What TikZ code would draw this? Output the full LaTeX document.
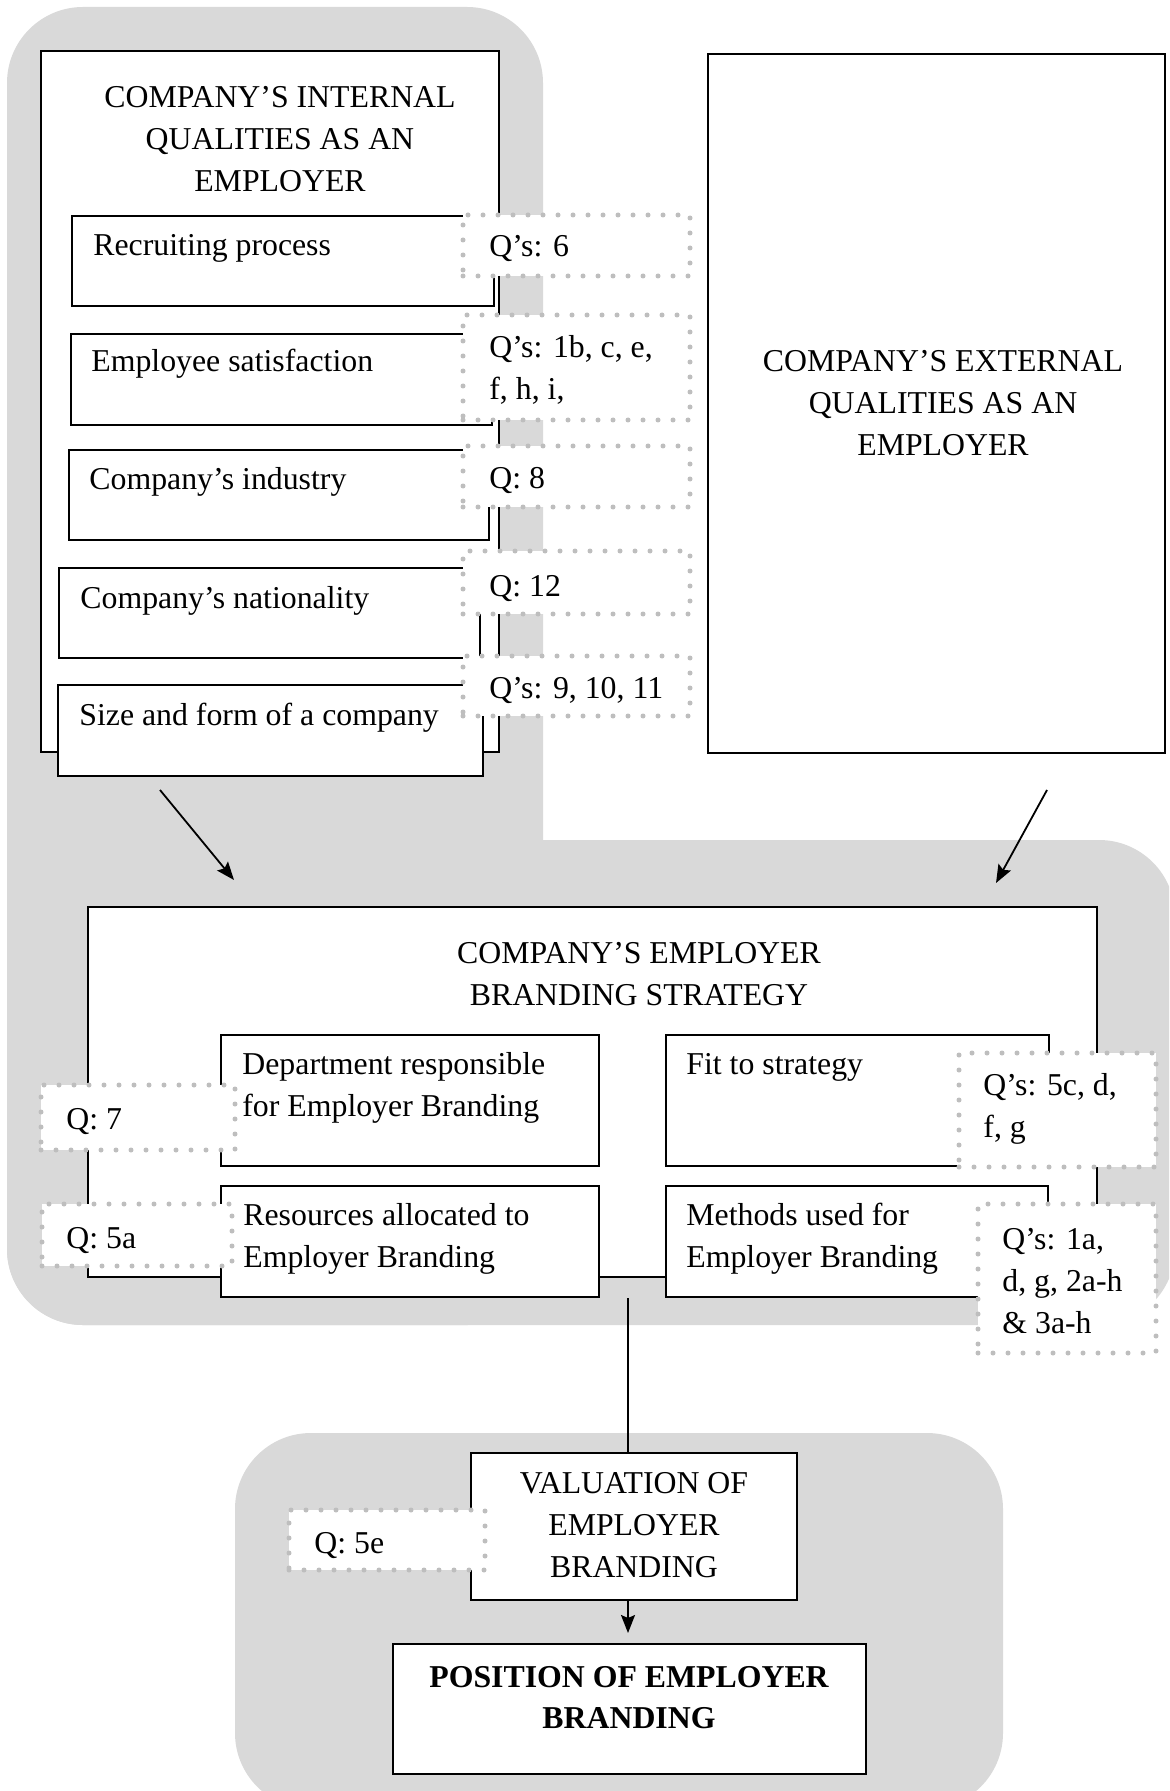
\documentclass[tikz,border=0pt]{standalone}
\usepackage{fontspec}
\setmainfont{Liberation Serif}
\usetikzlibrary{arrows.meta,fit}
\definecolor{bggray}{RGB}{217,217,217}
\definecolor{dotgray}{RGB}{190,190,190}
\begin{document}
\begin{tikzpicture}[x=0.5pt,y=-0.5pt,
  box/.style={draw=black,line width=0.9pt,fill=white,inner sep=0pt},
  qbox/.style={draw=dotgray,line width=2.5pt,line cap=round,dash pattern=on 0pt off 7.5pt,fill=white,inner sep=0pt},
  txt/.style={font=\fontsize{15.9pt}{21pt}\selectfont,inner sep=0pt,anchor=base west,align=left},
  ctxt/.style={font=\fontsize{15.9pt}{21pt}\selectfont,inner sep=0pt,anchor=base,align=center},
  arr/.style={line width=0.9pt,-{Stealth[length=9pt,width=7pt,inset=1.5pt]}},
  conn/.style={line width=0.9pt}]
\clip (0,0) rectangle (1169,1791);
\fill[white] (0,0) rectangle (1169,1791);
% gray backgrounds
\fill[bggray,rounded corners=38pt] (7,7) rectangle (543,1325);
\fill[bggray,rounded corners=38pt] (7,840) rectangle (1175,1325);
\fill[bggray,rounded corners=38pt] (235,1433) rectangle (1003,1809);

% internal qualities (multi-line text nodes are placed by their last baseline)
\node[box,fit={(41,51) (499,752)}] (intq) {};
\node[ctxt] (intT) at (280,192) {COMPANY’S INTERNAL\\QUALITIES AS AN\\EMPLOYER};
\node[box,fit={(72,216) (494,306)}] (recr) {};
\node[txt] (recrT) at (93,256) {Recruiting process};
\node[box,fit={(71,334) (492,425)}] (emp) {};
\node[txt] (empT) at (91,372) {Employee satisfaction};
\node[box,fit={(69,450) (489,540)}] (ind) {};
\node[txt] (indT) at (89,489) {Company’s industry};
\node[box,fit={(59,568) (480,658)}] (nat) {};
\node[txt] (natT) at (80,608) {Company’s nationality};
\node[box,fit={(58,685) (483,776)}] (size) {};
\node[txt] (sizeT) at (79,725) {Size and form of a company};

\node[qbox,fit={(463,215) (690,276)}] (q6) {};
\node[txt] (q6T) at (489,257) {Q’s: 6};
\node[qbox,fit={(463,315) (690,420)}] (q1b) {};
\node[txt] (q1bT) at (489,400) {Q’s: 1b, c, e,\\f, h, i,};
\node[qbox,fit={(463,446) (690,507)}] (q8) {};
\node[txt] (q8T) at (489,488) {Q: 8};
\node[qbox,fit={(463,551) (690,614)}] (q12) {};
\node[txt] (q12T) at (489,596) {Q: 12};
\node[qbox,fit={(463,656) (690,716)}] (q9) {};
\node[txt] (q9T) at (489,698) {Q’s: 9, 10, 11};

% external qualities
\node[box,fit={(708,54) (1165,753)}] (ext) {};
\node[ctxt] (extT) at (943,456) {COMPANY’S EXTERNAL\\QUALITIES AS AN\\EMPLOYER};

% strategy
\node[box,fit={(88,907) (1097,1277)}] (strat) {};
\node[ctxt] (stratT) at (639,1005) {COMPANY’S EMPLOYER\\BRANDING STRATEGY};
\node[box,fit={(221,1035) (599,1166)}] (dept) {};
\node[txt] (deptT) at (242,1116) {Department responsible\\for Employer Branding};
\node[box,fit={(666,1035) (1049,1166)}] (fitS) {};
\node[txt] (fitT) at (686,1074) {Fit to strategy};
\node[box,fit={(221,1186) (599,1297)}] (res) {};
\node[txt] (resT) at (243,1267) {Resources allocated to\\Employer Branding};
\node[box,fit={(666,1186) (1048,1297)}] (meth) {};
\node[txt] (methT) at (686,1267) {Methods used for\\Employer Branding};

\node[qbox,fit={(41,1085) (235,1150)}] (q7) {};
\node[txt] (q7T) at (66,1129) {Q: 7};
\node[qbox,fit={(42,1204) (232,1266)}] (q5a) {};
\node[txt] (q5aT) at (66,1248) {Q: 5a};
\node[qbox,fit={(959,1053) (1156,1167)}] (q5c) {};
\node[txt] (q5cT) at (983,1137) {Q’s: 5c, d,\\f, g};
\node[qbox,fit={(978,1204) (1156,1353)}] (q1a) {};
\node[txt] (q1aT) at (1002,1333) {Q’s: 1a,\\d, g, 2a-h\\\& 3a-h};

% valuation and position
\node[box,fit={(471,1453) (797,1600)}] (val) {};
\node[ctxt] (valT) at (634,1577) {VALUATION OF\\EMPLOYER\\BRANDING};
\node[qbox,fit={(289,1510) (485,1570)}] (q5e) {};
\node[txt] (q5eT) at (314,1553) {Q: 5e};
\node[box,fit={(393,1644) (866,1774)}] (pos) {};
\node[ctxt,font=\fontsize{15.9pt}{20.5pt}\selectfont\bfseries] (posT) at (629,1728) {POSITION OF EMPLOYER\\BRANDING};

% connectors
\coordinate (a1s) at (160,790);
\coordinate (a1e) at (234,880);
\draw[arr] (a1s) -- (a1e);
\coordinate (a2s) at (1047,790);
\coordinate (a2e) at (996,883);
\draw[arr] (a2s) -- (a2e);
\coordinate (vs) at (628,1298);
\draw[conn] (vs) -- (vs |- val.north);
\coordinate (vt) at (628,1633);
\draw[arr] (vt |- val.south) -- (vt);
\end{tikzpicture}
\end{document}
